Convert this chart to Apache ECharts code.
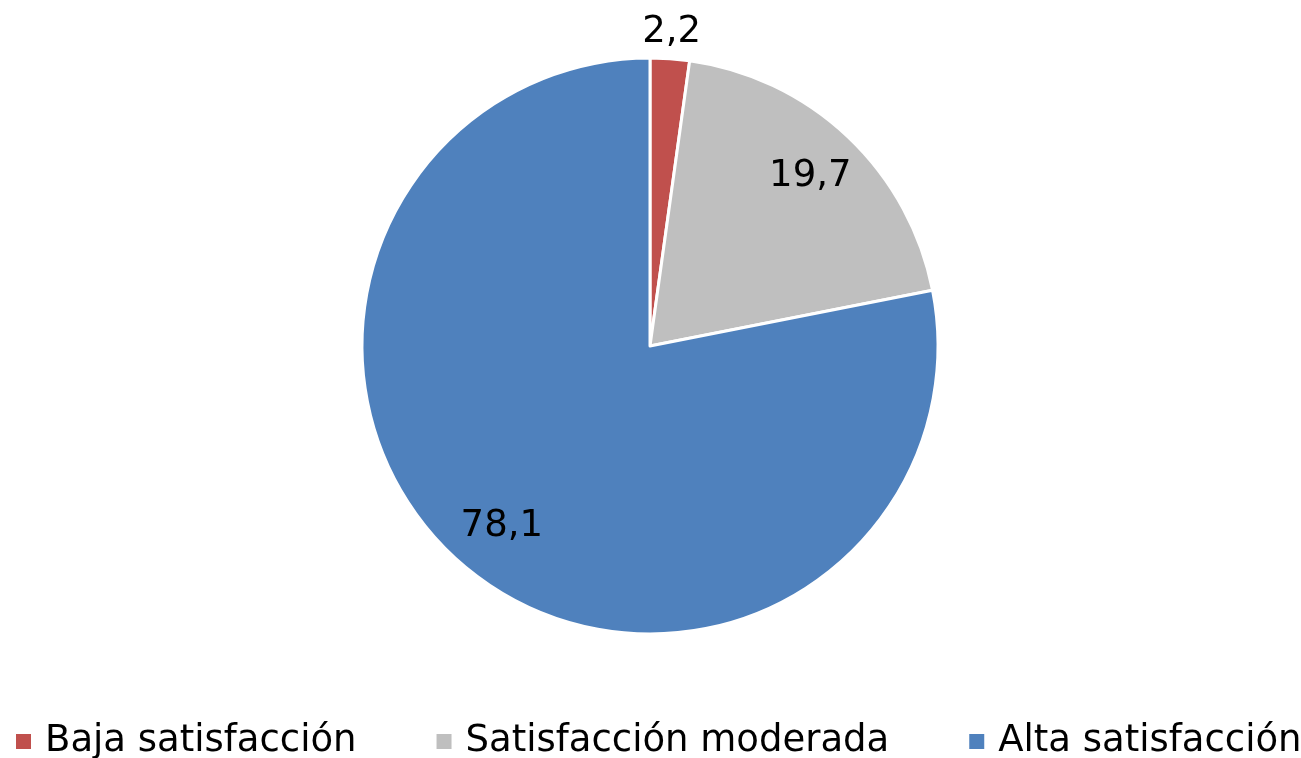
<!DOCTYPE html>
<html>
<head>
<meta charset="utf-8">
<script src="https://cdn.jsdelivr.net/npm/echarts@6/dist/echarts.min.js"></script>
<style>
	html, body { margin: 0; padding: 0; background: #fff; }
	#chart { width: 1301px; height: 758px; }
</style>
</head>
<body>
<div id="chart"></div>
<script>
const categories = ['Baja satisfacción', 'Satisfacción moderada', 'Alta satisfacción']
const values = [2.2, 19.7, 78.1]
const colors = ['#C0504D', '#BFBFBF', '#4F81BD']

const node = document.getElementById('chart')
const myChart = echarts.init(node)

const font = 'DejaVu Sans, Verdana, sans-serif'
const center = [650, 346]
const radius = 288

const fmt = v => String(v).replace('.', ',')

const slices = categories.map((name, i) => ({
	name: name,
	value: values[i],
	itemStyle: { color: colors[i] }
}))

// label ring: the small slice gets its label just outside the pie,
// the others sit inside at ~80% of the radius
const labelRing = (inner, outer, show) => ({
	type: 'pie',
	silent: true,
	center: center,
	radius: [inner, outer],
	startAngle: 90,
	clockwise: true,
	avoidLabelOverlap: false,
	itemStyle: { color: 'rgba(0,0,0,0)', borderWidth: 0 },
	emphasis: { disabled: true },
	labelLine: { show: false },
	data: categories.map((name, i) => ({
		name: name,
		value: values[i],
		label: {
			show: show(i),
			position: 'inside',
			formatter: () => fmt(values[i]),
			color: '#000',
			fontFamily: font,
			fontSize: 37
		}
	}))
})

const option = {
	animation: false,
	color: colors,
	legend: {
		data: categories,
		left: 14,
		top: 723,
		width: 1301,
		padding: 0,
		itemWidth: 17,
		itemHeight: 17,
		itemGap: 78,
		icon: 'rect',
		textStyle: {
			fontFamily: font,
			fontSize: 37,
			color: '#000',
			padding: [0, 0, 0, 8]
		}
	},
	series: [
		{
			type: 'pie',
			center: center,
			radius: radius,
			startAngle: 90,
			clockwise: true,
			label: { show: false },
			labelLine: { show: false },
			itemStyle: { borderColor: '#fff', borderWidth: 3 },
			emphasis: { scale: false },
			data: slices
		},
		labelRing(radius * 0.6, radius, i => i > 0),
		labelRing(radius, radius + 46, i => i === 0)
	]
}

myChart.setOption(option)

window.addEventListener('resize', () => {
	myChart.resize()
})
</script>
</body>
</html>
